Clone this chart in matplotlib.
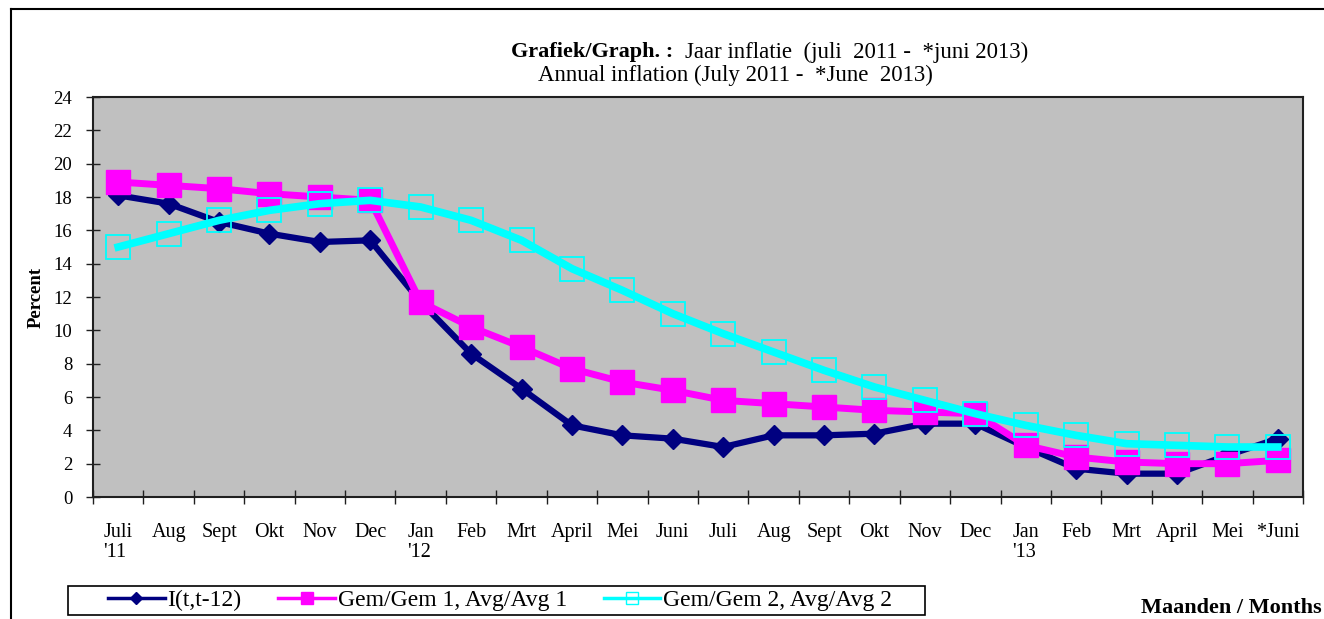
import matplotlib.pyplot as plt
import numpy as np
from matplotlib.lines import Line2D
from matplotlib.patches import Rectangle

plt.rcParams['font.family'] = ['Liberation Serif', 'DejaVu Serif']

months = ["Juli\n'11", "Aug", "Sept", "Okt", "Nov", "Dec", "Jan\n'12", "Feb", "Mrt", "April",
          "Mei", "Juni", "Juli", "Aug", "Sept", "Okt", "Nov", "Dec", "Jan\n'13", "Feb",
          "Mrt", "April", "Mei", "*Juni"]

# I(t,t-12)
infl_yoy = [18.1, 17.6, 16.5, 15.8, 15.3, 15.4, 11.7, 8.6, 6.5, 4.3, 3.7, 3.5,
            3.0, 3.7, 3.7, 3.8, 4.4, 4.4, 3.0, 1.7, 1.4, 1.4, 2.5, 3.5]
# Gem/Gem 1, Avg/Avg 1
avg1 = [18.9, 18.7, 18.5, 18.2, 18.0, 17.8, 11.7, 10.2, 9.0, 7.7, 6.9, 6.4,
        5.8, 5.6, 5.4, 5.2, 5.1, 5.0, 3.1, 2.4, 2.1, 2.0, 2.0, 2.2]
# Gem/Gem 2, Avg/Avg 2
avg2 = [15.0, 15.8, 16.6, 17.2, 17.6, 17.8, 17.4, 16.6, 15.4, 13.7, 12.4, 11.0,
        9.8, 8.7, 7.6, 6.6, 5.8, 5.0, 4.3, 3.7, 3.2, 3.1, 3.0, 3.0]

navy = "#000080"
pink = "#FF00FF"
cyan = "#00FFFF"

W, H = 1324, 619
fig = plt.figure(figsize=(W / 100, H / 100), dpi=100)
ax = fig.add_axes([93/W, 1-497/H, 1210/W, 400/H])
ax.set_facecolor("#C0C0C0")

x = np.arange(len(months))
ax.plot(x, infl_yoy, color=navy, lw=4.5, marker="D", ms=10.5, zorder=3)
ax.plot(x, avg1, color=pink, lw=5, marker="s", ms=17, zorder=4)
ax.plot(x, avg2, color=cyan, lw=5.5, marker="s", ms=17, mfc="none", mec=cyan, mew=1.3, zorder=5)

ax.set_xlim(-0.5, len(months) - 0.5)
ax.set_ylim(0, 24)
ax.set_yticks(np.arange(0, 25, 2))
ax.set_xticks(np.arange(-0.5, len(months), 1))
ax.set_xticklabels([])
ax.set_xticks(x, minor=True)
ax.set_xticklabels(months, minor=True, fontsize=14.5, ha="center", va="top", multialignment="left",
                   linespacing=1.05)
ax.tick_params(axis="x", which="minor", length=0, pad=19)
ax.tick_params(axis="x", which="major", direction="inout", length=10, width=1, color="#202020")
ax.tick_params(axis="y", direction="inout", length=10, width=1, color="#202020", labelsize=13.5, pad=10)
for s in ax.spines.values():
    s.set_color("#202020")
    s.set_linewidth(1.5)

ax.set_ylabel("Percent", fontsize=13.5, fontweight="bold", labelpad=6)

# title (two lines, first one partly bold)
fig.text(511/W, 1-52/H, "Grafiek/Graph. :", fontsize=16, fontweight="bold", ha="left", va="center")
fig.text(685/W, 1-52/H, "Jaar inflatie  (juli  2011 -  *juni 2013)", fontsize=16.5, ha="left", va="center")
fig.text(538/W, 1-75/H, "Annual inflation (July 2011 -  *June  2013)", fontsize=16.5, ha="left", va="center")

fig.text(1322/W, 1-608/H, "Maanden / Months", fontsize=16, fontweight="bold", ha="right", va="center")

# outer frame lines
fig.add_artist(Line2D([11/W, 11/W], [0, 1-9/H], color="black", lw=1.5))
fig.add_artist(Line2D([11/W, 1], [1-9/H, 1-9/H], color="black", lw=1.5))

# legend box
fig.add_artist(Rectangle((68/W, 1-615/H), 857/W, 29/H, transform=fig.transFigure,
                         fill=False, edgecolor="black", lw=1.2))
handles = [
    Line2D([], [], color=navy, lw=2.5, marker="D", ms=6),
    Line2D([], [], color=pink, lw=2.5, marker="s", ms=9),
    Line2D([], [], color=cyan, lw=2.5, marker="s", ms=9, mfc="none", mew=1),
]
labels = ["I(t,t-12)", "Gem/Gem 1, Avg/Avg 1", "Gem/Gem 2, Avg/Avg 2"]
leg = fig.legend(handles, labels, ncol=3, bbox_to_anchor=(108/W, 1-600/H), loc="center left",
                 borderaxespad=0, borderpad=0, fontsize=17, frameon=False,
                 handlelength=2.4, handletextpad=0.12, columnspacing=1.55)

fig.savefig("out.png", dpi=100)
